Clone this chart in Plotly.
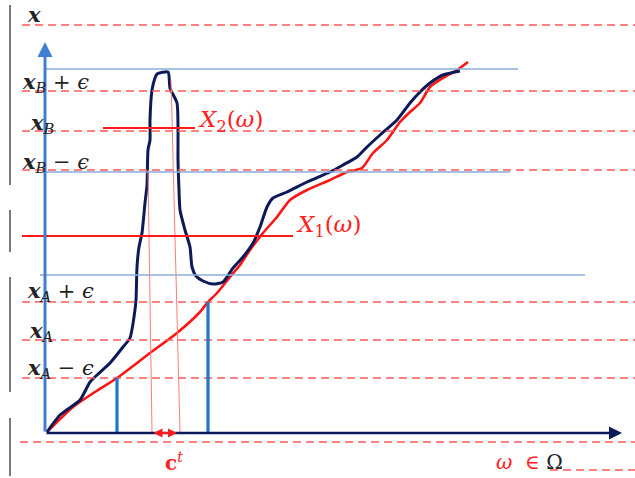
import plotly.graph_objects as go

# ---------------- data (diagram coordinates: omega along x, value along y, y grows downward) ----
# Curve X2(omega) (navy, hand drawn)
x2_omega = [47, 60, 80, 90, 97, 110, 123, 130, 134, 136, 137, 139, 142, 145, 147, 148, 150, 150, 152,
            155, 157, 168, 170, 177, 178, 178, 179, 180, 185, 190, 192, 196, 203, 213, 223, 233, 243,
            253, 260, 267, 273, 287, 307, 330, 343, 357, 367, 380, 397, 410, 420, 430, 443, 460]
x2_value = [432, 415, 400, 382, 375, 363, 347, 338, 317, 300, 267, 247, 233, 203, 185, 150, 140, 120, 90,
            78, 74, 72, 88, 103, 127, 160, 190, 210, 230, 247, 267, 276, 281, 284, 282, 268, 257,
            243, 227, 207, 198, 192, 182, 172, 165, 157, 147, 135, 120, 103, 92, 83, 75, 71]
# Curve X1(omega) (red)
x1_omega = [47, 73, 95, 117, 150, 177, 200, 208, 217, 230, 240, 250, 263, 277, 290, 307, 330, 347,
            362, 373, 387, 400, 410, 420, 430, 443, 457, 468]
x1_value = [432, 407, 392, 378, 353, 333, 312, 302, 293, 277, 265, 250, 233, 217, 200, 190, 180, 172,
            168, 153, 140, 122, 112, 103, 87, 78, 70, 62]

# Dashed reference levels: (value, start omega, end omega)
dashed_levels = [(25, 22, 635), (91, 22, 635), (131, 22, 635), (170, 22, 635), (302, 22, 635),
                 (340, 22, 635), (378, 22, 635), (442, 20, 635), (470, 550, 635)]
# Thin blue horizontals: (value, start, end)
blue_levels = [(69, 45, 518), (172, 45, 510), (275, 40, 585)]
# Red solid horizontals (X2 and X1 levels): (value, start, end)
red_levels = [(128, 103, 195), (236, 22, 293)]
# Blue bars (omega, top value)
bar_omega = [117, 208]
bar_top = [378, 302]
# c^t boundary lines: (omega top, value top, omega bottom, value bottom)
ct_lines = [(148, 170, 152, 432), (171, 80, 180, 432)]
# Gray margin segments (value ranges)
gray_segments = [(5, 185), (210, 252), (277, 392), (418, 476)]

axis_level = 433
origin = 45

left_labels = [
    ("<b><i>x</i></b>", 25, 14),
    ("<b><i>x</i></b><sub><i>B</i></sub> + <i>ϵ</i>", 20, 82),
    ("<b><i>x</i></b><sub><i>B</i></sub>", 28, 123),
    ("<b><i>x</i></b><sub><i>B</i></sub> − <i>ϵ</i>", 20, 162),
    ("<b><i>x</i></b><sub><i>A</i></sub> + <i>ϵ</i>", 25, 291),
    ("<b><i>x</i></b><sub><i>A</i></sub>", 27, 331),
    ("<b><i>x</i></b><sub><i>A</i></sub> − <i>ϵ</i>", 25, 368),
]

# ---------------- figure ----------------
fig = go.Figure()
shapes = []

for (y, x0, x1) in dashed_levels:
    shapes.append(dict(type="line", x0=x0, x1=x1, y0=y, y1=y,
                       line=dict(color="#ff5a5a", width=1.3, dash="8px,5px")))
for (y, x0, x1) in blue_levels:
    shapes.append(dict(type="line", x0=x0, x1=x1, y0=y, y1=y,
                       line=dict(color="#8aaedc", width=1.3)))
for (y0, y1) in gray_segments:
    shapes.append(dict(type="line", x0=10, x1=10, y0=y0, y1=y1,
                       line=dict(color="#7a7a7a", width=2)))
for (xt, yt, xb, yb) in ct_lines:
    shapes.append(dict(type="line", x0=xt, x1=xb, y0=yt, y1=yb,
                       line=dict(color="#ff7a7a", width=1)))
for (y, x0, x1) in red_levels:
    shapes.append(dict(type="line", x0=x0, x1=x1, y0=y, y1=y,
                       line=dict(color="#ff1a1a", width=2.2)))
for xb, yt in zip(bar_omega, bar_top):
    shapes.append(dict(type="line", x0=xb, x1=xb, y0=yt, y1=axis_level,
                       line=dict(color="#1f78c8", width=3.2)))

fig.update_layout(shapes=shapes)

fig.add_trace(go.Scatter(x=x1_omega, y=x1_value, mode="lines",
                         line=dict(color="#ff1414", width=2.6, shape="spline", smoothing=0.6),
                         hoverinfo="skip", showlegend=False))
fig.add_trace(go.Scatter(x=x2_omega, y=x2_value, mode="lines",
                         line=dict(color="#0c1a5a", width=3, shape="spline", smoothing=0.6),
                         hoverinfo="skip", showlegend=False))

ann = []
# y axis arrow (blue)
ann.append(dict(x=origin, y=42, ax=origin, ay=axis_level, xref="x", yref="y", axref="x", ayref="y",
                showarrow=True, arrowhead=2, arrowsize=1.0, arrowwidth=3, arrowcolor="#3f7fcf", text=""))
# x axis arrow (navy)
ann.append(dict(x=622, y=axis_level, ax=origin, ay=axis_level, xref="x", yref="y", axref="x", ayref="y",
                showarrow=True, arrowhead=2, arrowsize=1.0, arrowwidth=2.6, arrowcolor="#0c1a5a", text=""))
# c^t double arrow
ann.append(dict(x=177, y=axis_level, ax=152, ay=axis_level, xref="x", yref="y", axref="x", ayref="y",
                showarrow=True, arrowhead=2, startarrowhead=2, arrowside="end+start",
                arrowsize=0.9, startarrowsize=0.9, arrowwidth=2, arrowcolor="#ff1a1a", text=""))

for txt, x, y in left_labels:
    ann.append(dict(x=x, y=y, xref="x", yref="y", text=txt, showarrow=False,
                    xanchor="left", yanchor="middle",
                    font=dict(family="DejaVu Serif", size=21, color="#222222")))

ann.append(dict(x=196, y=121, xref="x", yref="y", text="<i>X</i><sub>2</sub>(<i>ω</i>)", showarrow=False,
                xanchor="left", yanchor="middle", font=dict(family="DejaVu Serif", size=23, color="#ff2020")))
ann.append(dict(x=294, y=226, xref="x", yref="y", text="<i>X</i><sub>1</sub>(<i>ω</i>)", showarrow=False,
                xanchor="left", yanchor="middle", font=dict(family="DejaVu Serif", size=23, color="#ff2020")))
ann.append(dict(x=163, y=462, xref="x", yref="y", text="<b>c</b><sup><i>t</i></sup>", showarrow=False,
                xanchor="left", yanchor="middle", font=dict(family="DejaVu Serif", size=20, color="#ff2020")))
ann.append(dict(x=494, y=462, xref="x", yref="y",
                text="<i>ω</i>  ∈ <span style='color:#222222'>Ω</span>", showarrow=False,
                xanchor="left", yanchor="middle", font=dict(family="DejaVu Serif", size=20, color="#ff2020")))

fig.update_layout(
    annotations=ann,
    width=635, height=478,
    margin=dict(l=0, r=0, t=0, b=0),
    paper_bgcolor="white", plot_bgcolor="white",
    xaxis=dict(range=[0, 635], visible=False, fixedrange=True),
    yaxis=dict(range=[478, 0], visible=False, fixedrange=True),
    showlegend=False,
)

fig.write_html("out.html", config={"displayModeBar": False},
               post_script="document.body.style.margin='0';document.body.style.overflow='hidden';")
